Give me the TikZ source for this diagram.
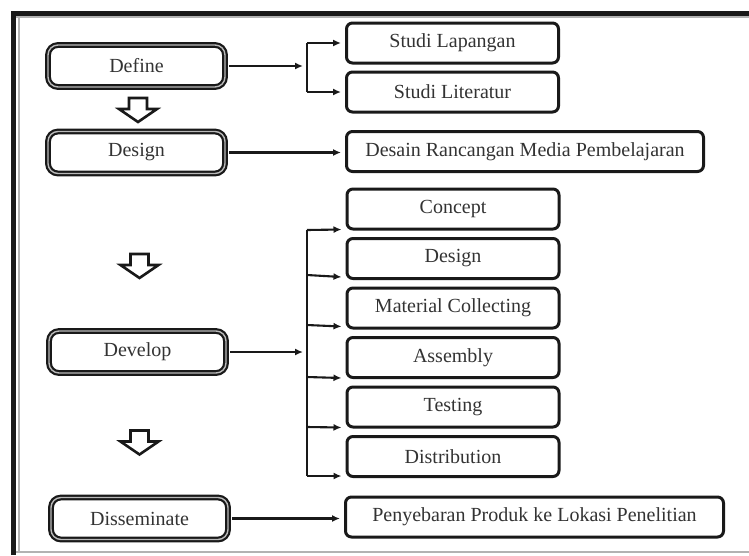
\documentclass[tikz,border=0pt]{standalone}
\usepackage{fontspec}
\setmainfont{Liberation Serif}
\usetikzlibrary{arrows.meta,calc}
\begin{document}
\begin{tikzpicture}[x=1pt,y=-1pt,
  every node/.style={font=\fontsize{20}{23}\selectfont, text=black!80, inner sep=0pt},
  stagebox/.style={draw=black!90, line width=2.2pt, double=gray!55, double distance=1.4pt,
    rounded corners=10pt, minimum width=177pt, minimum height=42pt},
  itembox/.style={draw=black!90, line width=3pt, rounded corners=6pt,
    minimum width=212pt, minimum height=40pt},
  conn/.style={draw=black!90, line width=2.1pt, -{Latex[length=8pt,width=7pt]}},
  plain/.style={draw=black!90, line width=2.1pt},
  hollowarrow/.pic={\draw[black!90, line width=2.6pt, line join=miter, fill=white]
    (-9,0) -- (9,0) -- (9,11) -- (19,11) -- (0,24) -- (-19,11) -- (-9,11) -- cycle;}
]
\useasboundingbox (0,0) rectangle (749,555);
\fill[white] (0,0) rectangle (749,555);
% outer frame
\draw[gray!60, line width=1.2pt] (13,552) -- (749,552);
\draw[gray!60, line width=1.2pt] (19,16) -- (19,552);
\draw[gray!60, line width=1.2pt] (16,17) -- (749,17);
\draw[black!90, line width=5pt] (13,555) -- (13,13) -- (749,13);

% stages
\node[stagebox] (define) at (136.5,66) {Define};
\node[stagebox] (design) at (136.5,152.5) {Design};
\node[stagebox] (develop) at (137.5,352) {Develop};
\node[stagebox] (dissem) at (139.5,518.5) {Disseminate};

% hollow arrows
\pic at (138,98) {hollowarrow};
\pic at (139.5,254) {hollowarrow};
\pic at (139.5,430.5) {hollowarrow};

% items
\node[itembox] (lap) at (452.5,43) {Studi Lapangan};
\node[itembox] (lit) at (452.5,92) {Studi Literatur};
\node[itembox, minimum width=357pt] (desain) at (525,151.5) {Desain Rancangan Media Pembelajaran};
\node[itembox] (concept) at (453,209) {Concept};
\node[itembox] (design2) at (453,258.5) {Design};
\node[itembox] (material) at (453,308) {Material Collecting};
\node[itembox] (assembly) at (453,357.5) {Assembly};
\node[itembox] (testing) at (453,407) {Testing};
\node[itembox] (distrib) at (453,456.5) {Distribution};
\node[itembox, minimum width=378pt] (sebar) at (534.5,517) {Penyebaran Produk ke Lokasi Penelitian};

% define connectors
\coordinate (bt) at (307,43);
\coordinate (bb) at (307,92);
\draw[conn] ([xshift=3pt]define.east) -- ([xshift=-4pt]define.east -| bt);
\draw[plain] (bb) -- (bt);
\draw[conn] (bt) -- ([xshift=-4pt]lap.west);
\draw[conn] (bb) -- ([xshift=-4pt]lit.west);

% design connector
\draw[conn] ([xshift=3pt]design.east) -- ([xshift=-4pt]design.east -| desain.west);

% develop connectors
\coordinate (vt) at (307,230);
\coordinate (vb) at (307,476);
\draw[conn] ([xshift=3pt]develop.east) -- ([xshift=-4pt]develop.east -| vt);
\draw[plain] (vt) -- (vb);
\draw[conn] (vt) -- ([xshift=-4pt,yshift=1pt]concept.south west);
\draw[conn] (307,275) -- ([xshift=-4pt,yshift=3pt]design2.south west);
\draw[conn] (307,325) -- ([xshift=-4pt,yshift=3pt]material.south west);
\draw[conn] (307,377) -- ([xshift=-4pt,yshift=1pt]assembly.south west);
\draw[conn] (307,427) -- ([xshift=-4pt,yshift=1pt]testing.south west);
\draw[conn] (vb) -- ([xshift=-4pt,yshift=2pt]distrib.south west);

% disseminate connector
\draw[conn] ([xshift=3pt]dissem.east) -- ([xshift=-4pt]dissem.east -| sebar.west);
\end{tikzpicture}
\end{document}
